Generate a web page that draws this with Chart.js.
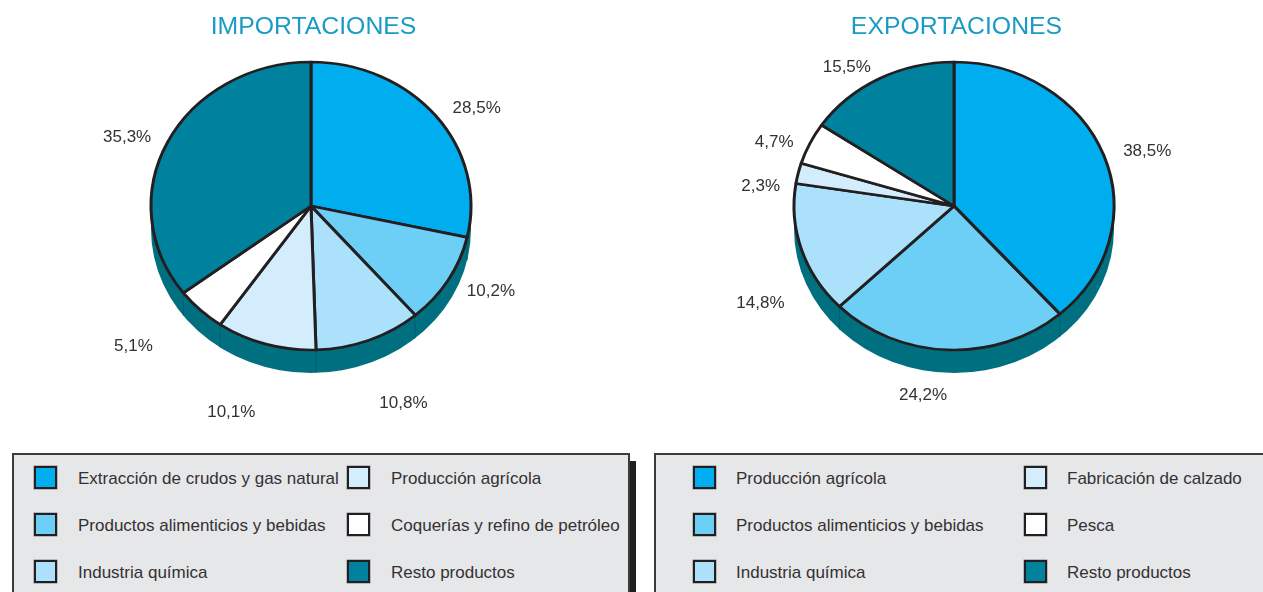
<!DOCTYPE html>
<html lang="es">
<head>
<meta charset="utf-8">
<title>Importaciones y exportaciones</title>
<script src="https://cdn.jsdelivr.net/npm/chart.js@4/dist/chart.umd.min.js"></script>
<style>
html,body{margin:0;padding:0;background:#fff;width:1263px;height:592px;overflow:hidden;font-family:"Liberation Sans",Arial,sans-serif}
canvas{position:absolute;top:0}
#c1{left:0}
#c2{left:650px}
.panel{position:absolute;top:453px;height:160px;background:#E6E7E8;border:2px solid #3b3b3d;box-sizing:border-box}
#p1{left:12px;width:618px}
#p2{left:654px;width:640px}
#shadow{position:absolute;left:630px;top:461px;width:6px;height:140px;background:#231F20}
.sw{position:absolute;width:23px;height:23px;box-sizing:border-box;border:2.5px solid #231F20;box-shadow:0 0 0 .5px #8a8a8c}
.tx{position:absolute;font-size:17px;line-height:20px;color:#333133;white-space:nowrap}
</style>
</head>
<body>
<canvas id="c1" width="626" height="440"></canvas>
<canvas id="c2" width="612" height="440"></canvas>
<div id="shadow"></div>
<div class="panel" id="p1"></div>
<div class="panel" id="p2"></div>
<script>
const importTitle = 'IMPORTACIONES';
const exportTitle = 'EXPORTACIONES';
const importCategories = ['Extracción de crudos y gas natural','Productos alimenticios y bebidas','Industria química','Producción agrícola','Coquerías y refino de petróleo','Resto productos'];
const exportCategories = ['Producción agrícola','Productos alimenticios y bebidas','Industria química','Fabricación de calzado','Pesca','Resto productos'];
const importValues = [28.5,10.2,10.8,10.1,5.1,35.3];
const exportValues = [38.5,24.2,14.8,2.3,4.7,15.5];
const sliceColors = ['#00AEEF','#6DCFF6','#ABE1FA','#D4EDFC','#FFFFFF','#00829F'];

const importNudges = [[42,-10],[44,11],[35,64],[-35,70],[-68,37],[-42,-7]];
const exportNudges = [[45,-6],[-25,47],[-42.5,53],[-39,11],[-37,-3],[-33,-15]];
const SQUASH = 0.9, DEPTH = 23, DEPTH_COLOR = '#006F80', INK = '#231F20';
const LABEL_INSET = 1.5, TITLE_SHIFT = 2.5;
const FONT = '"Liberation Sans", Arial, sans-serif';

const piePerspective = {
  id: 'piePerspective',
  afterLayout(chart) {
    chart.titleBlock.left += TITLE_SHIFT;
    chart.titleBlock.right += TITLE_SHIFT;
  },
  beforeDatasetsDraw(chart) {
    const arc = chart.getDatasetMeta(0).data[0];
    const {x: cx, y: cy, outerRadius: r} = arc;
    const ry = r * SQUASH, ctx = chart.ctx;
    ctx.save();
    ctx.fillStyle = DEPTH_COLOR;
    ctx.beginPath();
    ctx.ellipse(cx, cy + DEPTH, r, ry, 0, 0, Math.PI);
    ctx.lineTo(cx - r, cy);
    ctx.lineTo(cx + r, cy);
    ctx.closePath();
    ctx.fill();
    ctx.strokeStyle = '#005a68';
    ctx.lineWidth = 0.8;
    chart.getDatasetMeta(0).data.forEach(a => {
      const sy = Math.sin(a.endAngle);
      if (sy > 0.02) {
        const x = cx + r * Math.cos(a.endAngle), y = cy + ry * sy;
        ctx.beginPath(); ctx.moveTo(x, y); ctx.lineTo(x, y + DEPTH); ctx.stroke();
      }
    });
    ctx.restore();
    ctx.save();
    ctx.translate(cx, cy); ctx.scale(1, SQUASH); ctx.translate(-cx, -cy);
  },
  afterDatasetsDraw(chart, args, opts) {
    chart.ctx.restore();
    const ctx = chart.ctx;
    const ds = chart.data.datasets[0].data;
    ctx.save();
    ctx.font = '17px ' + FONT;
    ctx.fillStyle = '#333133';
    ctx.textAlign = 'center';
    ctx.textBaseline = 'middle';
    chart.getDatasetMeta(0).data.forEach((a, i) => {
      const m = (a.startAngle + a.endAngle) / 2;
      const r = a.outerRadius - LABEL_INSET;
      const x = a.x + r * Math.cos(m) + opts.nudges[i][0];
      const y = a.y + r * 0.893 * Math.sin(m) + opts.nudges[i][1];
      ctx.fillText(ds[i].toFixed(1).replace('.', ',') + '%', x, y + 1);
    });
    ctx.restore();
  }
};

function makePie(id, title, labels, values, nudges, padLeft, padRight) {
  return new Chart(document.getElementById(id), {
    type: 'pie',
    plugins: [piePerspective],
    data: {labels, datasets: [{data: values, backgroundColor: sliceColors, borderColor: INK, borderWidth: 3, borderJoinStyle: 'round', hoverOffset: 0}]},
    options: {
      responsive: false,
      animation: false,
      layout: {padding: {left: padLeft, right: padRight, top: 0, bottom: 72.5}},
      plugins: {
        legend: {display: false},
        tooltip: {enabled: false},
        title: {display: true, text: title, color: '#1A9BC4', font: {family: FONT, size: 24.8, weight: 'normal'}, padding: {top: 12, bottom: 2.74}},
        piePerspective: {nudges}
      }
    }
  });
}
makePie('c1', importTitle, importCategories, importValues, importNudges, 149.5, 153.5);
makePie('c2', exportTitle, exportCategories, exportValues, exportNudges, 142.5, 146.5);

function addLegend(cats, col1Sw, col1Tx, col2Sw, col2Tx) {
  const rowY = [478, 525, 572];
  cats.forEach((c, i) => {
    const col = i < 3 ? 0 : 1, y = rowY[i % 3];
    const s = document.createElement('div');
    s.className = 'sw';
    s.style.left = (col ? col2Sw : col1Sw) + 'px';
    s.style.top = (y - 12) + 'px';
    s.style.background = sliceColors[i];
    document.body.appendChild(s);
    const t = document.createElement('div');
    t.className = 'tx';
    t.textContent = c;
    t.style.left = (col ? col2Tx : col1Tx) + 'px';
    t.style.top = (y - 9) + 'px';
    document.body.appendChild(t);
  });
}
addLegend(importCategories, 34, 78, 347, 391);
addLegend(exportCategories, 693, 736, 1024, 1067);
</script>
</body>
</html>
